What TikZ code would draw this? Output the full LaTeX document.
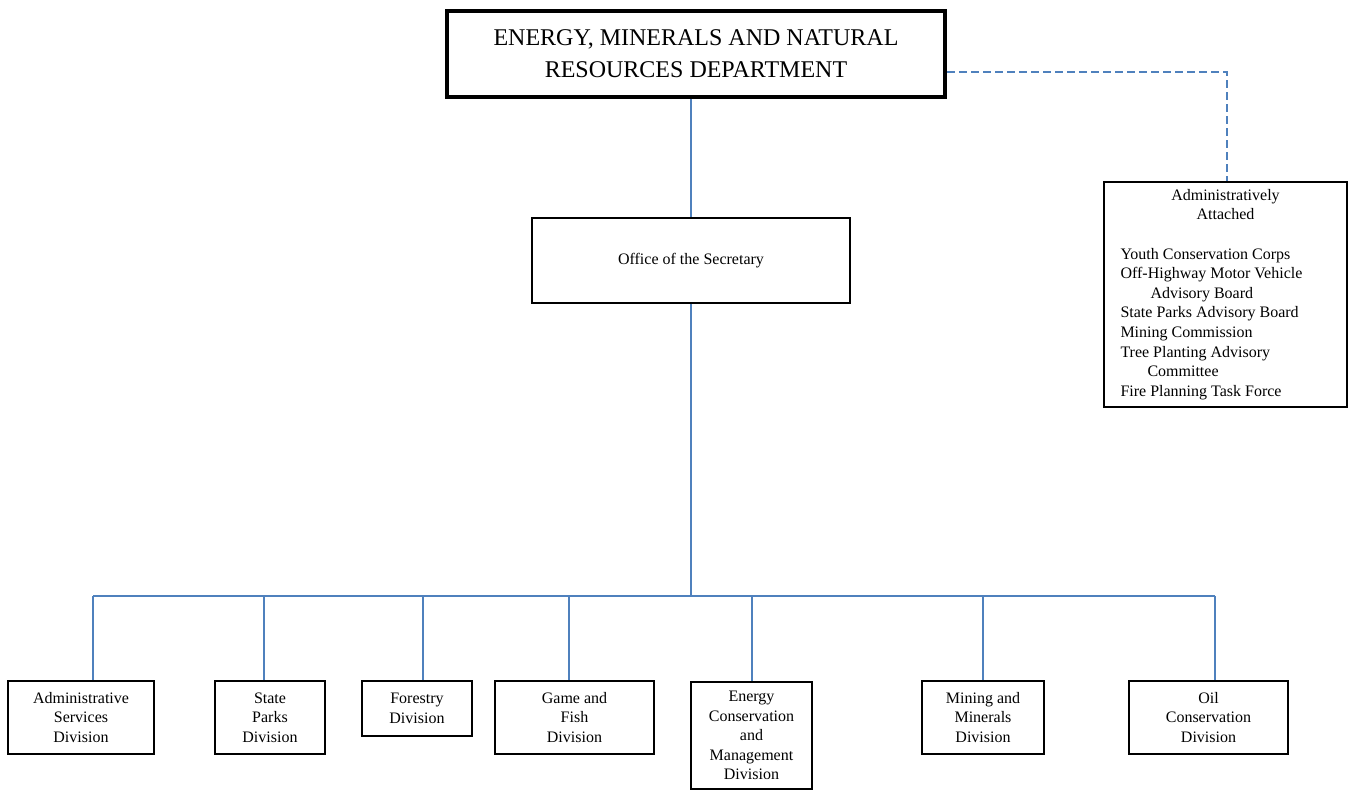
\documentclass[tikz,border=0pt]{standalone}
\usepackage{fontspec}
\setmainfont{Liberation Serif}
\usepackage{tikz}
\usetikzlibrary{positioning, calc}
\definecolor{linkblue}{RGB}{79,129,189}

\begin{document}
\begin{tikzpicture}[x=0.5pt, y=-0.5pt,
    deptbox/.style={draw, line width=2.3pt, minimum width=249pt, minimum height=43pt,
                    align=center, font=\fontsize{12}{16}\selectfont},
    unitbox/.style={draw, line width=1pt, inner sep=0pt, align=center,
                    font=\fontsize{8}{9.8}\selectfont},
    link/.style={draw=linkblue, line width=1pt}]
  \useasboundingbox (0,0) rectangle (1351,790);
  \node[deptbox] (dept) at (696,54) {ENERGY, MINERALS AND NATURAL\\RESOURCES DEPARTMENT};
  \node[unitbox, minimum width=159pt, minimum height=42.5pt] (sec) at (691,260.5)
    {Office of the Secretary};
  \node[unitbox, minimum width=121.5pt, minimum height=112.5pt, text width=105pt,
        align=none] (attached) at (1225.5,294.5)
    {{\centering Administratively\\Attached\par}
     \vspace{9.8pt}
     \raggedright Youth Conservation Corps\\
     Off-Highway Motor Vehicle\\
     \hspace*{15pt}Advisory Board\\
     State Parks Advisory Board\\
     Mining Commission\\
     Tree Planting Advisory\\
     \hspace*{13.5pt}Committee\\
     Fire Planning Task Force};
  \node[unitbox, minimum width=73pt, minimum height=36.5pt] (admin) at (81,717.5)
    {Administrative\\Services\\Division};
  \node[unitbox, minimum width=55pt, minimum height=36.5pt] (parks) at (270,717.5)
    {State\\Parks\\Division};
  \node[unitbox, minimum width=55pt, minimum height=27.5pt] (forestry) at (417,708.5)
    {Forestry\\Division};
  \node[unitbox, minimum width=79.5pt, minimum height=36.5pt] (game) at (574.5,717.5)
    {Game and\\Fish\\Division};
  \node[unitbox, minimum width=60.5pt, minimum height=53.5pt] (energy) at (751.5,735.5)
    {Energy\\Conservation\\and\\Management\\Division};
  \node[unitbox, minimum width=61pt, minimum height=36.5pt] (mining) at (983,717.5)
    {Mining and\\Minerals\\Division};
  \node[unitbox, minimum width=79.5pt, minimum height=36.5pt] (oil) at (1208.5,717.5)
    {Oil\\Conservation\\Division};
  \foreach \n/\bx in {admin/93, parks/264, forestry/423, game/569, energy/752,
                      mining/983, oil/1215}
    \coordinate (b-\n) at (\bx,596);
  \coordinate (corner) at (1227,72);
  \draw[link] (sec.north |- dept.south) -- (sec.north);
  \draw[link] (sec.south) -- (sec.south |- b-admin);
  \draw[link] (b-admin) -- (b-oil);
  \foreach \n in {admin, parks, forestry, game, energy, mining, oil}
    \draw[link] (b-\n) -- (b-\n |- \n.north);
  \draw[link, dash pattern=on 4pt off 2pt] (dept.east |- corner) -- (corner)
    -- (attached.north -| corner);
\end{tikzpicture}
\end{document}
